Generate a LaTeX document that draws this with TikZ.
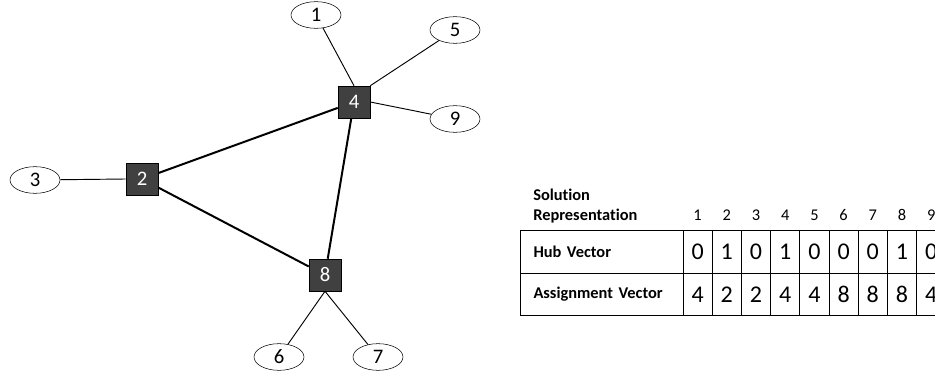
\documentclass[tikz,border=0pt]{standalone}
\usepackage{fontspec}
\setmainfont[Ligatures=NoCommon]{Carlito}
\usetikzlibrary{shapes.geometric}
\definecolor{hubfill}{HTML}{404040}

\begin{document}
\begin{tikzpicture}[
  x=0.75pt, y=-0.75pt,
  hub/.style={draw=black, fill=hubfill, text=white, minimum size=24pt,
              inner sep=0pt, font=\fontsize{15.5}{18}\selectfont},
  site/.style={draw=black, ellipse, minimum width=37.5pt, minimum height=20pt,
               inner sep=0pt, font=\fontsize{15.5}{18}\selectfont},
  link/.style={line width=1.5pt},
  spoke/.style={line width=0.7pt},
  cell/.style={draw=black, line width=0.75pt, minimum width=21.9pt,
               minimum height=31.9pt, inner sep=0pt, font=\fontsize{18}{21}\selectfont},
  rowlbl/.style={draw=black, line width=0.75pt, minimum width=122.25pt,
                 minimum height=31.9pt, inner xsep=10pt, text width=102pt,
                 align=left, font=\fontsize{12.3}{14.5}\selectfont\bfseries},
  idx/.style={inner sep=0pt, font=\fontsize{12.3}{14.5}\selectfont}
]
  \useasboundingbox (0,0) rectangle (935,374);
  \clip (0,0) rectangle (935,374);

  % hubs
  \node[hub] (h2) at (142,179) {2};
  \node[hub] (h4) at (354,102) {4};
  \node[hub] (h8) at (325,275) {8};

  % non-hub nodes
  \node[site] (n1) at (316,15)  {1};
  \node[site] (n5) at (455,30)  {5};
  \node[site] (n9) at (455,119) {9};
  \node[site] (n3) at (35,180)  {3};
  \node[site] (n6) at (279,357) {6};
  \node[site] (n7) at (378,357) {7};

  \draw[link] (h2) -- (h4);
  \draw[link] (h2) -- (h8);
  \draw[link] (h4) -- (h8);

  \draw[spoke] (n1) -- (h4.north);
  \draw[spoke] (n5) -- (h4.north east);
  \draw[spoke] (n9) -- (h4.east);
  \draw[spoke] (n3) -- (h2.west);
  \draw[spoke] (n6) -- (h8.south);
  \draw[spoke] (n7) -- (h8.south);

  % solution representation
  \node[idx, anchor=west, align=left, font=\fontsize{12.3}{14.5}\selectfont\bfseries]
    (title) at (533,206) {Solution\\Representation};
  \node[rowlbl] (hubrow) at (601.5,252) {Hub Vector};
  \node[rowlbl] (asgrow) at (601.5,294.5) {Assignment Vector};
  \foreach \i/\h/\a in {1/0/4, 2/1/2, 3/0/2, 4/1/4, 5/0/4, 6/0/8, 7/0/8, 8/1/8, 9/0/4} {
    \node[idx]  (c\i) at ({683+29.2*(\i-0.5)},215)   {\i};
    \node[cell] (v\i) at ({683+29.2*(\i-0.5)},252)   {\h};
    \node[cell] (a\i) at ({683+29.2*(\i-0.5)},294.5) {\a};
  }
\end{tikzpicture}
\end{document}
